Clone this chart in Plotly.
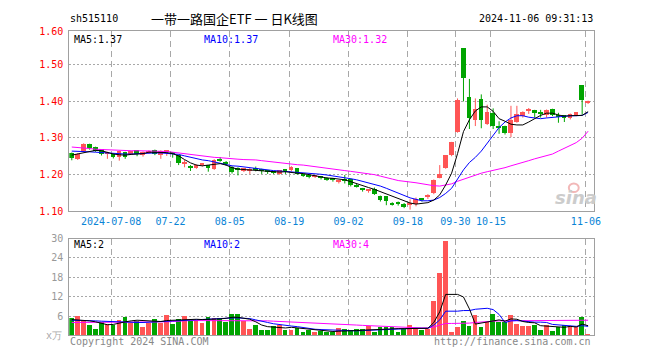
import plotly.graph_objects as go

# Browser page has an 8px body margin: the figure is sized so it fits the 660x360 window
OFF = 8
W, H = 660 - 2 * OFF, 360 - 2 * OFF

# ---------------- data ----------------
tick_idx = [7, 17, 27, 37, 47, 57, 65, 71, 87]
tick_text = ["2024-07-08", "07-22", "08-05", "08-19", "09-02", "09-18", "09-30", "10-15", "11-06"]

open_ = [1.257, 1.242, 1.262, 1.283, 1.275, 1.268, 1.255, 1.256, 1.248, 1.260,
         1.256, 1.265, 1.251, 1.259, 1.267, 1.253, 1.262, 1.257, 1.253, 1.228,
         1.223, 1.218, 1.226, 1.224, 1.215, 1.241, 1.231, 1.220, 1.214, 1.209,
         1.211, 1.218, 1.215, 1.211, 1.208, 1.202, 1.212, 1.212, 1.217, 1.200,
         1.196, 1.193, 1.195, 1.188, 1.190, 1.181, 1.185, 1.188, 1.172, 1.162,
         1.157, 1.160, 1.141, 1.141, 1.121, 1.123, 1.120, 1.119, 1.120, 1.133,
         1.140, 1.149, 1.190, 1.218, 1.251, 1.316, 1.542, 1.410, 1.347, 1.405,
         1.337, 1.366, 1.329, 1.332, 1.313, 1.343, 1.357, 1.372, 1.375, 1.367,
         1.361, 1.378, 1.359, 1.361, 1.352, 1.363, 1.442, 1.394]
close = [1.243, 1.255, 1.283, 1.271, 1.264, 1.255, 1.260, 1.248, 1.262, 1.248,
         1.262, 1.255, 1.261, 1.264, 1.256, 1.264, 1.264, 1.256, 1.231, 1.230,
         1.218, 1.226, 1.228, 1.218, 1.240, 1.236, 1.229, 1.207, 1.212, 1.216,
         1.213, 1.211, 1.210, 1.208, 1.204, 1.211, 1.210, 1.219, 1.202, 1.197,
         1.193, 1.195, 1.191, 1.186, 1.186, 1.184, 1.183, 1.171, 1.168, 1.156,
         1.159, 1.147, 1.129, 1.128, 1.119, 1.121, 1.111, 1.122, 1.133, 1.131,
         1.142, 1.185, 1.202, 1.251, 1.288, 1.401, 1.461, 1.354, 1.378, 1.346,
         1.368, 1.330, 1.327, 1.313, 1.346, 1.363, 1.370, 1.375, 1.366, 1.365,
         1.375, 1.361, 1.357, 1.352, 1.363, 1.368, 1.401, 1.400]
high = [1.260, 1.258, 1.285, 1.284, 1.276, 1.269, 1.262, 1.258, 1.265, 1.262,
        1.264, 1.266, 1.263, 1.266, 1.268, 1.266, 1.266, 1.259, 1.254, 1.240,
        1.226, 1.228, 1.230, 1.226, 1.242, 1.248, 1.237, 1.223, 1.220, 1.218,
        1.218, 1.222, 1.216, 1.212, 1.209, 1.212, 1.215, 1.223, 1.218, 1.202,
        1.198, 1.196, 1.196, 1.193, 1.191, 1.185, 1.199, 1.190, 1.175, 1.164,
        1.161, 1.165, 1.143, 1.142, 1.125, 1.127, 1.123, 1.133, 1.138, 1.135,
        1.147, 1.187, 1.226, 1.252, 1.289, 1.407, 1.543, 1.460, 1.407, 1.418,
        1.390, 1.380, 1.345, 1.333, 1.387, 1.387, 1.372, 1.381, 1.376, 1.376,
        1.377, 1.379, 1.368, 1.362, 1.366, 1.369, 1.443, 1.401]
low = [1.239, 1.240, 1.261, 1.268, 1.262, 1.252, 1.243, 1.244, 1.238, 1.243,
       1.254, 1.250, 1.249, 1.257, 1.253, 1.243, 1.251, 1.246, 1.226, 1.220,
       1.210, 1.216, 1.222, 1.208, 1.213, 1.235, 1.224, 1.203, 1.198, 1.207,
       1.202, 1.209, 1.202, 1.202, 1.202, 1.200, 1.202, 1.209, 1.200, 1.194,
       1.190, 1.191, 1.187, 1.183, 1.181, 1.176, 1.176, 1.168, 1.165, 1.154,
       1.151, 1.145, 1.127, 1.117, 1.116, 1.116, 1.109, 1.105, 1.114, 1.127,
       1.134, 1.147, 1.190, 1.216, 1.250, 1.314, 1.399, 1.324, 1.332, 1.326,
       1.335, 1.324, 1.311, 1.309, 1.302, 1.341, 1.355, 1.365, 1.355, 1.355,
       1.355, 1.359, 1.341, 1.343, 1.350, 1.359, 1.363, 1.392]

ma5 = [1.253, 1.256, 1.261, 1.264, 1.266, 1.265, 1.260, 1.256, 1.254, 1.253,
       1.255, 1.256, 1.257, 1.261, 1.261, 1.260, 1.260, 1.257, 1.251, 1.241,
       1.232, 1.226, 1.224, 1.226, 1.229, 1.230, 1.226, 1.219, 1.215, 1.214,
       1.213, 1.211, 1.209, 1.208, 1.207, 1.207, 1.208, 1.207, 1.204, 1.203,
       1.200, 1.196, 1.194, 1.191, 1.190, 1.188, 1.186, 1.181, 1.175, 1.171,
       1.165, 1.160, 1.154, 1.149, 1.143, 1.136, 1.131, 1.123, 1.120, 1.121,
       1.124, 1.131, 1.145, 1.172, 1.204, 1.257, 1.317, 1.349, 1.373, 1.384,
       1.384, 1.372, 1.352, 1.345, 1.337, 1.335, 1.335, 1.343, 1.353, 1.361,
       1.367, 1.367, 1.362, 1.359, 1.360, 1.360, 1.361, 1.371]
ma10 = [1.264, 1.264, 1.262, 1.262, 1.261, 1.260, 1.258, 1.256, 1.256, 1.256,
        1.256, 1.257, 1.259, 1.260, 1.259, 1.259, 1.258, 1.256, 1.255, 1.251,
        1.247, 1.242, 1.240, 1.238, 1.234, 1.231, 1.226, 1.224, 1.223, 1.221,
        1.218, 1.216, 1.214, 1.211, 1.211, 1.210, 1.209, 1.208, 1.207, 1.205,
        1.204, 1.203, 1.201, 1.199, 1.197, 1.195, 1.193, 1.189, 1.186, 1.182,
        1.177, 1.174, 1.169, 1.163, 1.156, 1.150, 1.144, 1.137, 1.133, 1.129,
        1.129, 1.131, 1.138, 1.149, 1.163, 1.187, 1.213, 1.233, 1.247, 1.264,
        1.286, 1.308, 1.328, 1.343, 1.354, 1.360, 1.360, 1.356, 1.353, 1.352,
        1.354, 1.356, 1.358, 1.359, 1.360, 1.360, 1.361, 1.369]
ma30 = [1.275, 1.274, 1.273, 1.271, 1.269, 1.268, 1.267, 1.266, 1.266, 1.266,
        1.265, 1.265, 1.265, 1.264, 1.264, 1.264, 1.263, 1.261, 1.259, 1.256,
        1.255, 1.253, 1.251, 1.249, 1.247, 1.246, 1.244, 1.243, 1.242, 1.241,
        1.241, 1.240, 1.238, 1.236, 1.234, 1.233, 1.231, 1.229, 1.227, 1.226,
        1.224, 1.222, 1.220, 1.219, 1.217, 1.214, 1.211, 1.209, 1.207, 1.205,
        1.204, 1.200, 1.196, 1.191, 1.188, 1.184, 1.181, 1.180, 1.178, 1.175,
        1.173, 1.170, 1.169, 1.172, 1.175, 1.182, 1.188, 1.194, 1.198, 1.204,
        1.208, 1.211, 1.215, 1.219, 1.224, 1.228, 1.233, 1.238, 1.243, 1.248,
        1.251, 1.256, 1.264, 1.271, 1.279, 1.287, 1.299, 1.318]

vol = [5.4, 6.1, 4.7, 3.3, 2.1, 4.3, 3.7, 3.3, 4.8, 5.7,
       4.1, 4.7, 2.7, 3.9, 5.1, 4.1, 6.3, 3.7, 5.1, 6.1,
       4.7, 4.9, 3.9, 5.7, 5.4, 5.4, 4.4, 6.9, 6.9, 4.7,
       2.1, 3.3, 1.8, 1.8, 3.1, 3.3, 1.8, 1.8, 2.5, 1.2,
       1.8, 1.2, 1.5, 1.2, 1.2, 2.5, 2.1, 1.8, 2.1, 2.1,
       2.9, 1.2, 2.7, 2.7, 2.7, 1.2, 2.1, 3.3, 2.1, 1.8,
       2.1, 10.8, 19.5, 29.4, 1.2, 2.7, 4.5, 3.0, 6.3, 2.7,
       4.2, 6.8, 4.2, 4.2, 6.3, 3.7, 3.0, 3.0, 3.3, 1.8,
       3.3, 1.5, 2.7, 3.3, 3.0, 2.7, 5.8, 0.3]
vma5 = [4.9, 4.8, 4.7, 4.5, 4.2, 3.7, 3.3, 3.4, 3.9, 4.2,
        4.5, 4.7, 4.6, 4.5, 4.3, 4.3, 4.6, 4.7, 4.7, 4.9,
        5.1, 5.0, 4.9, 4.9, 5.0, 5.1, 5.3, 5.6, 5.6, 5.4,
        5.0, 4.2, 3.2, 2.7, 2.5, 2.4, 2.3, 2.5, 2.3, 2.0,
        1.8, 1.6, 1.4, 1.3, 1.2, 1.3, 1.3, 1.4, 1.5, 1.6,
        1.7, 1.7, 1.9, 2.1, 2.2, 2.1, 2.1, 2.1, 2.1, 2.1,
        2.2, 4.0, 7.3, 12.7, 12.6, 12.7, 11.9, 8.2, 3.5, 3.8,
        4.1, 4.6, 4.8, 4.4, 5.1, 5.0, 4.3, 4.0, 3.9, 3.0,
        2.9, 2.6, 2.5, 2.5, 2.8, 2.6, 3.5, 3.0]
vma10 = [4.7, 4.7, 4.6, 4.6, 4.5, 4.4, 4.3, 4.2, 4.1, 4.1,
         4.0, 4.0, 4.0, 4.1, 4.2, 4.3, 4.4, 4.4, 4.5, 4.5,
         4.6, 4.7, 4.8, 4.9, 5.0, 5.1, 5.3, 5.4, 5.4, 5.3,
         5.2, 4.8, 4.3, 4.0, 3.6, 3.3, 3.1, 2.9, 2.7, 2.4,
         2.1, 1.9, 1.8, 1.7, 1.6, 1.5, 1.4, 1.4, 1.4, 1.5,
         1.6, 1.6, 1.7, 1.9, 2.0, 2.0, 2.1, 2.1, 2.2, 2.2,
         2.2, 3.2, 4.8, 7.5, 7.4, 7.5, 7.7, 7.7, 8.1, 8.2,
         8.4, 8.0, 6.5, 4.0, 4.5, 4.6, 4.4, 4.4, 4.1, 4.1,
         4.0, 3.4, 3.3, 3.2, 2.9, 2.8, 3.0, 2.8]
vma30 = [4.0, 4.0, 4.0, 4.0, 4.0, 4.0, 4.0, 4.0, 4.0, 4.0,
         4.0, 4.0, 4.0, 4.0, 4.0, 4.1, 4.2, 4.3, 4.5, 4.5,
         4.6, 4.6, 4.7, 4.7, 4.7, 4.7, 4.7, 4.7, 4.7, 4.7,
         4.7, 4.7, 4.6, 4.5, 4.4, 4.3, 4.2, 4.2, 4.1, 4.0,
         3.9, 3.8, 3.7, 3.6, 3.5, 3.4, 3.3, 3.3, 3.2, 3.1,
         3.0, 3.0, 2.9, 2.8, 2.7, 2.6, 2.5, 2.5, 2.4, 2.3,
         2.3, 2.6, 3.2, 3.7, 3.7, 3.7, 3.8, 3.8, 4.0, 4.2,
         4.3, 4.4, 4.5, 4.5, 4.6, 4.7, 4.7, 4.7, 4.7, 4.7,
         4.7, 4.7, 4.7, 4.7, 4.7, 4.7, 4.7, 4.7]

price_ticks = [1.10, 1.20, 1.30, 1.40, 1.50, 1.589]
price_tick_text = ["1.10", "1.20", "1.30", "1.40", "1.50", "1.60"]
vol_ticks = [6, 12, 18, 24, 30]
vol_tick_text = ["6", "12", "18", "24", "30"]

# ---------------- styling ----------------
RED = "#ff5555"
GREEN = "#00a400"
MONO = "DejaVu Sans Mono"
GRID = "#a8a8a8"
FRAME = "#a0a0a0"


def px_x(px):  # window pixel -> paper x
    return (px - OFF) / W


def px_y(py):  # window pixel -> paper y
    return 1 - (py - OFF) / H


x = list(range(len(close)))
is_up = [c >= o for o, c in zip(open_, close)]
colors = [RED if u else GREEN for u in is_up]

fig = go.Figure()

# wicks
for flag, col in ((True, RED), (False, GREEN)):
    wx, wy = [], []
    for i in x:
        if is_up[i] == flag:
            wx += [i, i, None]
            wy += [low[i], high[i], None]
    fig.add_trace(go.Scatter(x=wx, y=wy, mode="lines", line=dict(color=col, width=1),
                             hoverinfo="skip", showlegend=False, xaxis="x", yaxis="y"))

# bodies
fig.add_trace(go.Bar(x=x,
                     y=[max(abs(c - o), 0.0028) for o, c in zip(open_, close)],
                     base=[min(o, c) for o, c in zip(open_, close)],
                     marker=dict(color=colors, line=dict(width=0)), width=0.8,
                     hoverinfo="skip", showlegend=False, xaxis="x", yaxis="y"))

for arr, col in ((ma30, "#ff00ff"), (ma10, "#0000ff"), (ma5, "#000000")):
    fig.add_trace(go.Scatter(x=x, y=arr, mode="lines", line=dict(color=col, width=1),
                             hoverinfo="skip", showlegend=False, xaxis="x", yaxis="y"))

# volume
fig.add_trace(go.Bar(x=x, y=vol, marker=dict(color=colors, line=dict(width=0)), width=0.8,
                     hoverinfo="skip", showlegend=False, xaxis="x2", yaxis="y2"))
for arr, col in ((vma30, "#ff00ff"), (vma10, "#0000ff"), (vma5, "#000000")):
    fig.add_trace(go.Scatter(x=x, y=arr, mode="lines", line=dict(color=col, width=1),
                             hoverinfo="skip", showlegend=False, xaxis="x2", yaxis="y2"))

xr = [-0.417, 87.92]
xdom = [px_x(70), px_x(600)]
grid_pos = [t - 0.37 for t in tick_idx]

common_x = dict(domain=xdom, range=xr, tickvals=grid_pos, showgrid=True, gridcolor=GRID,
                griddash="6px,4px", gridwidth=1, zeroline=False, showline=True, mirror=True,
                linecolor=FRAME, linewidth=1, ticks="", fixedrange=True)

fig.update_layout(
    width=W, height=H, margin=dict(l=0, r=0, t=0, b=0), autosize=False,
    paper_bgcolor="white", plot_bgcolor="white", showlegend=False, bargap=0,
    xaxis=dict(**common_x, anchor="y", ticktext=tick_text, ticklabelstandoff=1,
               tickfont=dict(family=MONO, size=10, color="#0a84d6")),
    yaxis=dict(domain=[px_y(212), px_y(26)], range=[1.10, 1.589],
               tickvals=price_ticks, ticktext=price_tick_text,
               tickfont=dict(family=MONO, size=10, color="#ff0000"),
               showgrid=True, gridcolor=GRID, griddash="2px,2px", zeroline=False,
               showline=True, mirror=True, linecolor=FRAME, ticks="", ticklabelstandoff=3,
               anchor="x", fixedrange=True),
    xaxis2=dict(**common_x, anchor="y2", showticklabels=False),
    yaxis2=dict(domain=[px_y(340), px_y(240)], range=[0, 30],
                tickvals=vol_ticks, ticktext=vol_tick_text,
                tickfont=dict(family=MONO, size=10, color="#999999"),
                showgrid=True, gridcolor=GRID, griddash="2px,2px", zeroline=False,
                showline=True, mirror=True, linecolor=FRAME, ticks="", ticklabelstandoff=3,
                anchor="x2", fixedrange=True),
)


def txt(s, px, py, color="#000000", size=10, anchor="left", family=MONO, **kw):
    fig.add_annotation(text=s, x=px_x(px), y=px_y(py), xref="paper", yref="paper",
                       xanchor=anchor, yanchor="middle", showarrow=False,
                       font=dict(family=family, size=size, color=color, **kw))


txt("sh515110", 69, 13)
txt("一带一路国企ETF 一 日K线图", 237, 13, size=13, anchor="center", family="Noto Sans CJK SC")
txt("2024-11-06 09:31:13", 601, 13, anchor="right")

txt("MA5:1.37", 73, 34)
txt("MA10:1.37", 204, 34, color="#0000ff")
txt("MA30:1.32", 335, 34, color="#ff00ff")

txt("MA5:2", 73, 246)
txt("MA10:2", 204, 246, color="#0000ff")
txt("MA30:4", 335, 246, color="#ff00ff")

txt("x万", 65, 340, color="#aaaaaa", anchor="right")
txt("Copyright 2024 SINA.COM", 69, 346, color="#888888")
txt("http://finance.sina.com.cn", 599, 346, color="#888888", anchor="right")

txt("sina", 582, 198, color="#cccccc", size=18, anchor="center",
    family="DejaVu Sans", weight="bold", style="italic")
fig.add_shape(type="circle", xref="paper", yref="paper",
              x0=px_x(575), x1=px_x(585), y0=px_y(192), y1=px_y(183),
              line=dict(color="#f2b8b8", width=2))

fig.write_html("out.html")
